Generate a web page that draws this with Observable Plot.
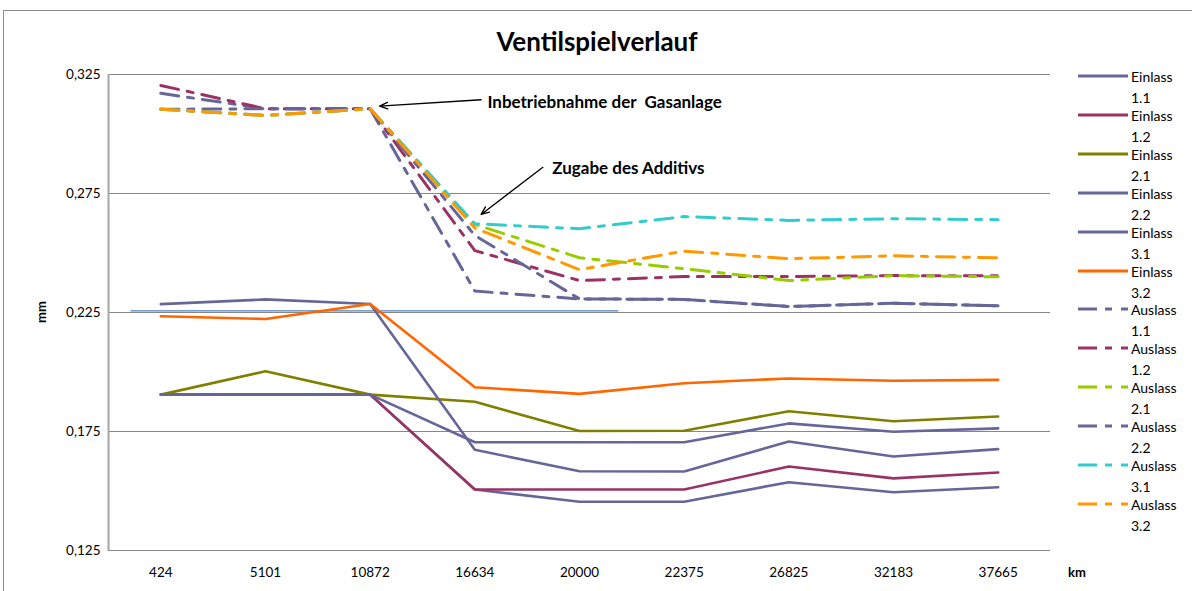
<!DOCTYPE html>
<html>
<head>
<meta charset="utf-8">
<script src="https://cdn.jsdelivr.net/npm/d3@7"></script>
<script src="https://cdn.jsdelivr.net/npm/@observablehq/plot@0.6"></script>
<style>
  html, body { margin: 0; padding: 0; background: #fff; }
  #wrap { position: relative; width: 1192px; height: 591px; overflow: hidden; font-family: Lato, "Open Sans", sans-serif; }
  #frame { position: absolute; left: 3px; top: 10px; width: 1200px; height: 600px; border: 1px solid #8c8c8c; box-sizing: border-box; }
  #title { position: absolute; left: 0; width: 1194px; top: 25px; text-align: center; font-weight: bold; font-size: 26px; }
  #chart { position: absolute; left: 0; top: 0; }
  .ax { position: absolute; font-weight: bold; font-size: 13px; }
  #legend { position: absolute; left: 1076px; top: 0; font-size: 14px; }
  .li { position: absolute; left: 0; width: 116px; height: 44px; }
  .li svg { position: absolute; left: 2px; top: 7px; }
  .li .t { position: absolute; left: 55px; top: 0; line-height: 21px; white-space: nowrap; }
</style>
</head>
<body>
<div id="wrap">
  <div id="frame"></div>
  <div id="chart"></div>
  <div id="title">Ventilspielverlauf</div>
  <div class="ax" style="left:30px; top:304px; transform: rotate(-90deg);">mm</div>
  <div class="ax" style="left:1068px; top:564px;">km</div>
  <div id="legend"></div>
</div>
<script>
// ---- data ----
const km = ["424", "5101", "10872", "16634", "20000", "22375", "26825", "32183", "37665"];
const yTicks = [0.125, 0.175, 0.225, 0.275, 0.325];

const einlass11 = [0.1905, 0.1905, 0.1905, 0.1506, 0.1455, 0.1455, 0.1537, 0.1495, 0.1516];
const einlass12 = [0.1905, 0.1905, 0.1905, 0.1506, 0.1506, 0.1506, 0.1603, 0.1553, 0.1578];
const einlass21 = [0.1905, 0.2003, 0.1905, 0.1875, 0.1752, 0.1753, 0.1835, 0.1793, 0.1813];
const einlass22 = [0.1905, 0.1905, 0.1905, 0.1705, 0.1705, 0.1705, 0.1784, 0.1749, 0.1763];
const einlass31 = [0.2285, 0.2305, 0.2286, 0.1673, 0.1583, 0.1582, 0.1708, 0.1645, 0.1676];
const einlass32 = [0.2234, 0.2223, 0.2286, 0.1936, 0.1908, 0.1953, 0.1973, 0.1963, 0.1967];
const auslass11 = [0.3171, 0.3106, 0.3106, 0.2340, 0.2307, 0.2305, 0.2275, 0.2289, 0.2278];
const auslass12 = [0.3204, 0.3106, 0.3106, 0.2510, 0.2384, 0.2401, 0.2401, 0.2405, 0.2404];
const auslass21 = [0.3104, 0.3078, 0.3106, 0.2620, 0.2480, 0.2434, 0.2384, 0.2405, 0.2400];
const auslass22 = [0.3104, 0.3106, 0.3106, 0.2574, 0.2307, 0.2305, 0.2275, 0.2289, 0.2278];
const auslass31 = [0.3104, 0.3078, 0.3106, 0.2623, 0.2602, 0.2653, 0.2637, 0.2644, 0.2640];
const auslass32 = [0.3104, 0.3078, 0.3106, 0.2605, 0.2430, 0.2508, 0.2476, 0.2488, 0.2480];

const seriesNames = ["Einlass 1.1", "Einlass 1.2", "Einlass 2.1", "Einlass 2.2", "Einlass 3.1", "Einlass 3.2",
                     "Auslass 1.1", "Auslass 1.2", "Auslass 2.1", "Auslass 2.2", "Auslass 3.1", "Auslass 3.2"];
const seriesValues = [einlass11, einlass12, einlass21, einlass22, einlass31, einlass32,
                      auslass11, auslass12, auslass21, auslass22, auslass31, auslass32];
const seriesColors = ["#666699", "#993366", "#808000", "#666699", "#666699", "#FF6600",
                      "#666699", "#993366", "#99CC00", "#666699", "#33CCCC", "#FF9900"];

// annotations (x in category-index units)
const annTexts = [
  {x: 3.12, y: 0.3131, text: "Inbetriebnahme der  Gasanlage"},
  {x: 3.74, y: 0.2856, text: "Zugabe des Additivs"}
];
const annArrows = [
  {x1: 3.06, y1: 0.3144, x2: 2.09, y2: 0.3117},
  {x1: 3.65, y1: 0.2860, x2: 3.06, y2: 0.2662}
];
// stray thin line visible in the original
const stray = [{x1: -0.29, x2: 4.37, y: 0.2257}];

// ---- build ----
const DASH = "18,9,6,9";
const rows = [];
seriesNames.forEach((name, s) => {
  seriesValues[s].forEach((v, i) => rows.push({series: name, s, i, v}));
});

const lineMarks = seriesNames.map((name, s) => Plot.line(rows.filter(r => r.s === s), {
  x: "i", y: "v",
  stroke: seriesColors[s],
  strokeWidth: s < 6 ? 2.6 : 3,
  strokeDasharray: s < 6 ? null : DASH,
  strokeLinejoin: "round"
}));

const chart = Plot.plot({
  width: 1192,
  height: 591,
  marginLeft: 108,
  marginRight: 142,
  marginTop: 74,
  marginBottom: 41,
  style: {fontFamily: "Lato, 'Open Sans', sans-serif", fontSize: "13px", color: "#000", background: "transparent"},
  x: {domain: [-0.5, 8.5]},
  y: {domain: [0.125, 0.325]},
  marks: [
    Plot.ruleY(yTicks, {stroke: "#878787", strokeWidth: 1}),
    Plot.ruleX([-0.5], {stroke: "#a6a6a6", strokeWidth: 2}),
    Plot.link(stray, {x1: "x1", x2: "x2", y1: "y", y2: "y", stroke: "#4F81BD", strokeWidth: 1.2}),
    ...lineMarks,
    Plot.axisX(d3.range(km.length), {tickSize: 0, tickPadding: 17, tickFormat: i => km[i], label: null, fontSize: 13.5}),
    Plot.axisY(yTicks, {tickSize: 0, tickPadding: 8, tickFormat: d => d3.format(".3f")(d).replace(".", ","), label: null, fontSize: 13.5}),
    Plot.arrow(annArrows, {x1: "x1", y1: "y1", x2: "x2", y2: "y2", stroke: "#000", strokeWidth: 1.3, headLength: 10, headAngle: 45}),
    Plot.text(annTexts, {x: "x", y: "y", text: "text", textAnchor: "start", fontWeight: "bold", fontSize: 17, fill: "#000"})
  ]
});
document.getElementById("chart").appendChild(chart);

// legend
const legend = document.getElementById("legend");
seriesNames.forEach((name, s) => {
  const [w1, w2] = name.split(" ");
  const item = document.createElement("div");
  item.className = "li";
  item.style.top = (66 + s * 38.9) + "px";
  const dash = s < 6 ? "" : `stroke-dasharray="19,8,7,9"`;
  item.innerHTML = `<svg width="52" height="6"><line x1="0" y1="3" x2="50" y2="3" stroke="${seriesColors[s]}" stroke-width="3" ${dash}/></svg>
    <div class="t">${w1}<br>${w2}</div>`;
  legend.appendChild(item);
});
</script>
</body>
</html>
